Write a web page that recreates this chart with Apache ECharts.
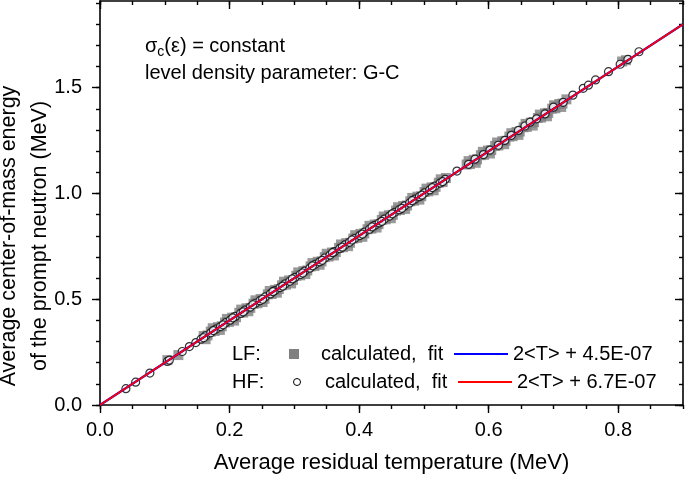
<!DOCTYPE html>
<html><head><meta charset="utf-8">
<script src="https://cdn.jsdelivr.net/npm/echarts@6/dist/echarts.min.js"></script>
<style>html,body{margin:0;padding:0;background:#fff}#c{width:685px;height:479px}</style>
</head><body><div id="c"></div>
<script>
// ---- data ----
const xTickLabels = [0, 0.2, 0.4, 0.6, 0.8];
const yTickLabels = [0, 0.5, 1.0, 1.5];
const xRange = [0, 0.9];
const yRange = [0, 1.91];

// LF fragments: [average residual temperature T, average CM energy]
const lfCalculated = [
[0.104,0.212],[0.121,0.236],[0.160,0.326],[0.166,0.329],[0.171,0.347],[0.177,0.350],
[0.182,0.368],[0.188,0.372],[0.193,0.390],[0.199,0.393],[0.204,0.413],[0.210,0.415],
[0.215,0.436],[0.221,0.437],[0.226,0.457],[0.232,0.459],[0.237,0.479],[0.243,0.481],
[0.248,0.501],[0.254,0.502],[0.259,0.523],[0.265,0.525],[0.270,0.544],[0.276,0.548],
[0.281,0.566],[0.287,0.569],[0.292,0.589],[0.298,0.591],[0.303,0.611],[0.309,0.613],
[0.314,0.633],[0.320,0.636],[0.325,0.655],[0.331,0.657],[0.336,0.677],[0.342,0.679],
[0.347,0.699],[0.353,0.702],[0.358,0.721],[0.364,0.723],[0.369,0.743],[0.375,0.746],
[0.380,0.765],[0.386,0.767],[0.391,0.787],[0.397,0.790],[0.402,0.809],[0.408,0.811],
[0.413,0.831],[0.419,0.834],[0.424,0.853],[0.430,0.855],[0.435,0.875],[0.441,0.878],
[0.446,0.897],[0.452,0.899],[0.457,0.919],[0.463,0.922],[0.468,0.941],[0.474,0.943],
[0.479,0.963],[0.485,0.966],[0.490,0.985],[0.496,0.987],[0.501,1.007],[0.507,1.010],
[0.512,1.029],[0.518,1.031],[0.523,1.051],[0.529,1.054],[0.534,1.073],
[0.566,1.137],[0.571,1.139],[0.577,1.159],[0.582,1.161],[0.588,1.181],[0.593,1.183],
[0.599,1.203],[0.604,1.205],[0.610,1.225],[0.615,1.227],[0.621,1.247],[0.626,1.249],
[0.632,1.269],[0.637,1.271],[0.643,1.291],[0.648,1.293],[0.654,1.313],[0.659,1.315],
[0.665,1.335],[0.670,1.337],[0.676,1.357],[0.681,1.359],[0.687,1.379],[0.692,1.381],
[0.698,1.401],[0.703,1.403],[0.709,1.423],[0.714,1.425],[0.720,1.445],
[0.806,1.624],[0.812,1.630],
[0.163,0.311],[0.174,0.363],[0.185,0.355],[0.196,0.407],[0.207,0.399],[0.218,0.451],
[0.229,0.443],[0.240,0.495],[0.251,0.487],[0.262,0.539],[0.273,0.531],[0.284,0.583],
[0.295,0.575],[0.306,0.627],[0.317,0.619],[0.328,0.671],[0.339,0.663],[0.350,0.715],
[0.361,0.707],[0.372,0.759],[0.383,0.751],[0.394,0.803],[0.405,0.795],[0.416,0.847],
[0.427,0.839],[0.438,0.891],[0.449,0.883],[0.460,0.935],[0.471,0.927],[0.482,0.979],
[0.493,0.971],[0.504,1.023],[0.515,1.015],[0.526,1.067],[0.569,1.153],[0.580,1.145],
[0.591,1.197],[0.602,1.189],[0.613,1.241],[0.624,1.233],[0.635,1.285],[0.646,1.277],
[0.657,1.329],[0.668,1.321],[0.679,1.373],[0.690,1.365],[0.701,1.417],[0.712,1.409]
];
// HF fragments
const hfCalculated = [
[0.040,0.077],[0.055,0.108],[0.077,0.151],[0.104,0.206],[0.107,0.212],[0.127,0.253],
[0.138,0.276],[0.148,0.295],[0.156,0.311],[0.163,0.327],[0.171,0.341],[0.179,0.359],
[0.186,0.371],[0.194,0.389],[0.201,0.401],[0.209,0.419],[0.217,0.433],[0.224,0.449],
[0.232,0.463],[0.240,0.481],[0.247,0.493],[0.255,0.511],[0.263,0.525],[0.270,0.541],
[0.278,0.555],[0.286,0.573],[0.293,0.585],[0.301,0.603],[0.309,0.617],[0.316,0.633],
[0.324,0.647],[0.332,0.665],[0.339,0.677],[0.347,0.695],[0.355,0.709],[0.362,0.725],
[0.370,0.739],[0.378,0.757],[0.385,0.769],[0.393,0.787],[0.401,0.801],[0.408,0.817],
[0.416,0.831],[0.424,0.849],[0.431,0.861],[0.439,0.879],[0.447,0.893],[0.455,0.911],
[0.462,0.923],[0.470,0.941],[0.478,0.955],[0.486,0.973],[0.493,0.985],[0.501,1.003],
[0.509,1.017],[0.517,1.035],[0.525,1.049],[0.533,1.067],
[0.160,0.318],[0.175,0.352],[0.190,0.379],[0.205,0.412],[0.221,0.440],[0.236,0.474],
[0.251,0.500],[0.267,0.536],[0.282,0.562],[0.297,0.596],[0.313,0.624],[0.328,0.658],
[0.343,0.684],[0.359,0.720],[0.374,0.746],[0.389,0.780],[0.405,0.808],[0.420,0.842],
[0.435,0.868],[0.451,0.904],[0.466,0.930],[0.482,0.966],[0.497,0.992],[0.513,1.028],
[0.529,1.056],
[0.551,1.106],[0.569,1.138],[0.579,1.162],[0.592,1.184],[0.602,1.205],[0.615,1.228],
[0.625,1.251],[0.635,1.275],[0.646,1.298],[0.656,1.319],[0.664,1.337],[0.674,1.353],
[0.687,1.376],[0.700,1.408],[0.715,1.431],[0.730,1.465],[0.746,1.497],[0.754,1.512],
[0.765,1.537],[0.785,1.576],[0.803,1.611],[0.815,1.634],[0.832,1.670]
];
// fit lines (end points)
const fitT = [0, 0.9];
const lfFitE = [0.00000045, 1.80000045];
const hfFitE = [0.00000067, 1.80000067];

// ---- chart ----
const FONT = 'Liberation Sans, Arial, Helvetica, sans-serif';
const BLK = '#000';
function steps(a, b, s) { const r = []; for (let v = a; v <= b + 1e-9; v += s) r.push(+v.toFixed(4)); return r; }
const xMinor = steps(0, 0.9, 0.05);
const yMinor = steps(0, 1.9, 0.1);

function axisBase(pos, range) {
  return { type: 'value', position: pos, min: range[0], max: range[1], splitLine: { show: false } };
}
function mkAxis(pos, range, ticks, len, inside, showLine, labels, margin) {
  const a = axisBase(pos, range);
  a.axisLine = { show: showLine, onZero: false, lineStyle: { color: BLK, width: 1.6 } };
  a.axisTick = { show: true, inside: inside, length: len, customValues: ticks, lineStyle: { color: BLK, width: 1.4 } };
  a.axisLabel = labels
    ? { show: true, customValues: labels, formatter: v => v.toFixed(1), color: BLK, fontSize: 20, fontFamily: FONT, margin: margin }
    : { show: false };
  return a;
}

const chart = echarts.init(document.getElementById('c'), null, { renderer: 'canvas' });
chart.setOption({
  animation: false,
  backgroundColor: '#fff',
  grid: { left: 100, right: 2, top: 1, bottom: 70, containLabel: false },
  xAxis: [
    Object.assign(mkAxis('bottom', xRange, xTickLabels, 8, false, true, xTickLabels, 15), {
      name: 'Average residual temperature (MeV)', nameLocation: 'middle', nameGap: 47,
      nameTextStyle: { fontSize: 22, fontFamily: FONT, color: BLK }
    }),
    mkAxis('bottom', xRange, xMinor, 4, false, false, null),
    mkAxis('top', xRange, xTickLabels, 8, true, true, null),
    mkAxis('top', xRange, xMinor, 4, true, false, null)
  ],
  yAxis: [
    mkAxis('left', yRange, yTickLabels, 8, false, true, yTickLabels, 18),
    mkAxis('left', yRange, yMinor, 4, false, false, null),
    mkAxis('right', yRange, yTickLabels, 8, true, true, null),
    mkAxis('right', yRange, yMinor, 4, true, false, null)
  ],
  series: [
    { type: 'scatter', name: 'LF calculated', data: lfCalculated, symbol: 'rect', symbolSize: 10,
      itemStyle: { color: '#808080' }, z: 2 },
    { type: 'scatter', name: 'HF calculated', data: hfCalculated, symbol: 'circle', symbolSize: 8,
      itemStyle: { color: '#fff', borderColor: BLK, borderWidth: 1.2 }, z: 3 },
    { type: 'line', name: 'LF fit', data: fitT.map((t, i) => [t, lfFitE[i]]), symbol: 'none',
      lineStyle: { color: '#0000ff', width: 2.2 }, z: 4 },
    { type: 'line', name: 'HF fit', data: fitT.map((t, i) => [t, hfFitE[i]]), symbol: 'none',
      lineStyle: { color: '#ff0000', width: 1.8 }, z: 5 }
  ],
  graphic: [
    { type: 'text', x: 25, y: 236, rotation: Math.PI / 2,
      style: { text: 'Average center-of-mass energy\nof the prompt neutron (MeV)', fontSize: 21.5,
        fontFamily: FONT, fill: BLK, align: 'center', verticalAlign: 'middle', lineHeight: 31 } },
    { type: 'text', x: 145, y: 46,
      style: { text: '{a|σ}{s|c}{a|(ε) = constant}', fontFamily: FONT, fill: BLK, verticalAlign: 'middle',
        rich: { a: { fontSize: 20, fontFamily: FONT, fill: BLK }, s: { fontSize: 14, fontFamily: FONT, fill: BLK, padding: [12, 0, 0, 0] } } } },
    { type: 'text', x: 145, y: 73,
      style: { text: 'level density parameter: G-C', fontSize: 20, fontFamily: FONT, fill: BLK, verticalAlign: 'middle' } },
    // legend row 1
    { type: 'text', x: 232, y: 354, style: { text: 'LF:', fontSize: 20, fontFamily: FONT, fill: BLK, verticalAlign: 'middle' } },
    { type: 'rect', shape: { x: 289, y: 349, width: 10, height: 10 }, style: { fill: '#808080' } },
    { type: 'text', x: 321, y: 354, style: { text: 'calculated,  fit', fontSize: 20, fontFamily: FONT, fill: BLK, verticalAlign: 'middle' } },
    { type: 'line', shape: { x1: 454, y1: 354, x2: 508, y2: 354 }, style: { stroke: '#0000ff', lineWidth: 2 } },
    { type: 'text', x: 513, y: 354, style: { text: '2<T> + 4.5E-07', fontSize: 20, fontFamily: FONT, fill: BLK, verticalAlign: 'middle' } },
    // legend row 2
    { type: 'text', x: 232, y: 382, style: { text: 'HF:', fontSize: 20, fontFamily: FONT, fill: BLK, verticalAlign: 'middle' } },
    { type: 'circle', shape: { cx: 297, cy: 382, r: 3.5 }, style: { fill: '#fff', stroke: BLK, lineWidth: 1 } },
    { type: 'text', x: 325, y: 382, style: { text: 'calculated,  fit', fontSize: 20, fontFamily: FONT, fill: BLK, verticalAlign: 'middle' } },
    { type: 'line', shape: { x1: 458, y1: 382, x2: 512, y2: 382 }, style: { stroke: '#ff0000', lineWidth: 2 } },
    { type: 'text', x: 517, y: 382, style: { text: '2<T> + 6.7E-07', fontSize: 20, fontFamily: FONT, fill: BLK, verticalAlign: 'middle' } }
  ]
});
</script>
</body></html>
